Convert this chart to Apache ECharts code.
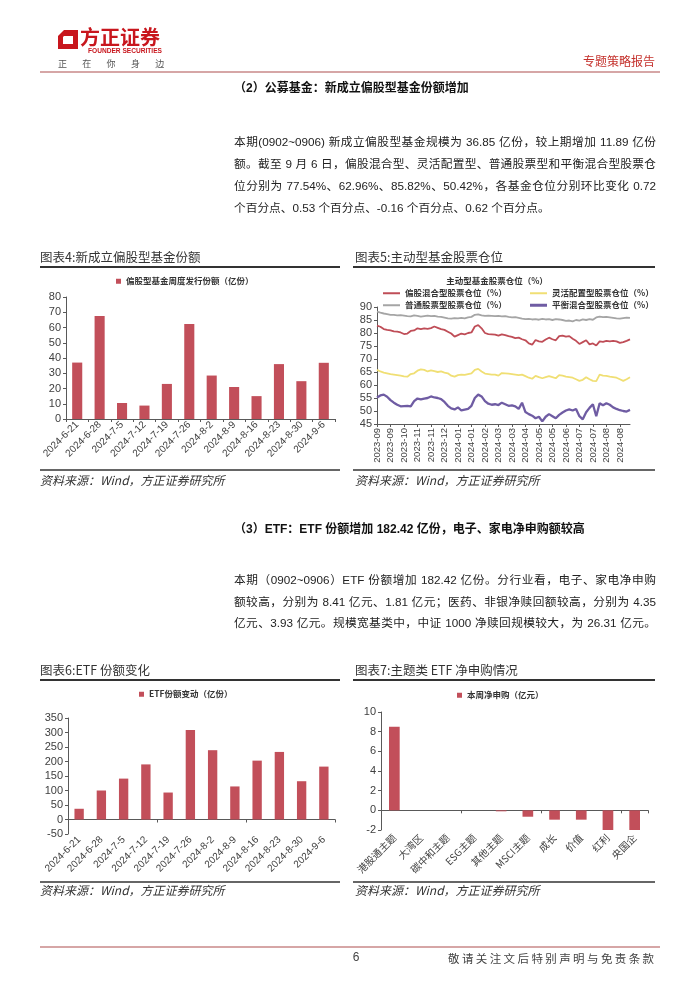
<!DOCTYPE html>
<html>
<head>
<meta charset="utf-8">
<script src="https://cdn.jsdelivr.net/npm/echarts@6.0.0/dist/echarts.min.js"></script>
<style>
html,body{margin:0;padding:0;background:#fff;}
#page{position:relative;width:700px;height:990px;overflow:hidden;background:#fff;}
#chart{position:absolute;left:0;top:0;width:700px;height:990px;}
.h{position:absolute;left:234px;font-family:"Liberation Sans","Noto Sans CJK SC",sans-serif;font-weight:bold;font-size:12px;line-height:16px;color:#111;white-space:nowrap;}
.p{position:absolute;left:234px;width:422px;font-family:"Liberation Sans","Noto Sans CJK SC",sans-serif;font-size:11.7px;line-height:16px;color:#222;}
.j{text-align:justify;text-align-last:justify;}
.foot{position:absolute;left:448px;top:951px;font-family:"Noto Sans CJK SC",sans-serif;font-size:11.5px;line-height:14px;letter-spacing:2.4px;color:#444;white-space:nowrap;}
</style>
</head>
<body>
<div id="page">
<div id="chart"></div>
<div class="h" style="top:80px">（2）公募基金：新成立偏股型基金份额增加</div>
<div class="p j" style="top:134px">本期(0902~0906) 新成立偏股型基金规模为 36.85 亿份，较上期增加 11.89 亿份</div>
<div class="p j" style="top:156px">额。截至 9 月 6 日，偏股混合型、灵活配置型、普通股票型和平衡混合型股票仓</div>
<div class="p j" style="top:178px">位分别为 77.54%、62.96%、85.82%、50.42%，各基金仓位分别环比变化 0.72</div>
<div class="p" style="top:200px">个百分点、0.53 个百分点、-0.16 个百分点、0.62 个百分点。</div>
<div class="h" style="top:521px">（3）ETF：ETF 份额增加 182.42 亿份，电子、家电净申购额较高</div>
<div class="p j" style="top:572px">本期（0902~0906）ETF 份额增加 182.42 亿份。分行业看，电子、家电净申购</div>
<div class="p j" style="top:594px">额较高，分别为 8.41 亿元、1.81 亿元；医药、非银净赎回额较高，分别为 4.35</div>
<div class="p j" style="top:615px">亿元、3.93 亿元。规模宽基类中，中证 1000 净赎回规模较大，为 26.31 亿元。</div>
<div class="foot">敬请关注文后特别声明与免责条款</div>
</div>
<script>
// ---------- data ----------
const weeks = ['2024-6-21','2024-6-28','2024-7-5','2024-7-12','2024-7-19','2024-7-26','2024-8-2','2024-8-9','2024-8-16','2024-8-23','2024-8-30','2024-9-6'];
const newFundShares = [37.0,67.5,10.5,8.8,23.0,62.3,28.5,21.0,15.0,36.0,24.8,36.85];
const etfShareChange = [37,100,141,190,93,309,239,114,203,233,132,182.42];
const themeNames = ['港股通主题','大湾区','碳中和主题','ESG主题','其他主题','MSCI主题','成长','价值','红利','央国企'];
const themeNetBuy = [8.5,0,0,0,-0.1,-0.65,-0.95,-0.95,-2.0,-2.0];
const positionTicks = ['2023-09','2023-09','2023-10','2023-11','2023-11','2023-12','2024-01','2024-01','2024-02','2024-03','2024-03','2024-04','2024-05','2024-05','2024-06','2024-07','2024-07','2024-08','2024-08'];
const equityHybrid = [82.8,82.4,81.5,81.2,81.0, 80.6,80.5,80.2,79.6,79.8, 80.8,81.0,81.8,81.5,81.8, 81.6,81.9,82.5,82.0,81.5, 81.2,80.5,79.8,78.6,79.2, 79.8,79.5,80.0,80.2,82.5, 83.0,81.8,80.0,79.6,79.5, 79.4,79.0,79.5,79.2,78.8, 78.5,78.0,78.2,77.6,77.2, 76.0,75.5,77.3,76.8,76.6, 77.5,78.2,77.6,77.2,78.8, 79.0,78.6,78.8,77.8,77.0, 75.8,76.5,77.2,75.6,76.0, 75.2,76.8,76.6,77.0,76.8, 77.0,76.8,76.2,76.5,77.0, 77.54];
const flexibleAlloc = [65.8,65.2,64.8,64.5,64.2, 64.0,63.8,63.6,63.3,63.2, 64.2,64.5,65.5,66.0,65.8, 65.2,65.6,65.3,65.0,65.2, 64.8,64.5,63.6,63.2,63.8, 64.0,63.9,64.2,64.5,65.8, 66.2,65.2,64.4,64.2,64.0, 64.0,63.6,64.6,64.5,64.4, 64.2,64.0,63.8,64.0,63.4, 62.8,62.4,63.5,63.0,62.6, 63.0,63.4,63.0,62.6,63.8, 63.6,63.2,63.0,62.8,62.2, 61.6,62.0,63.0,62.2,61.6, 61.5,64.0,63.6,63.5,63.2, 63.0,62.8,62.2,61.6,62.2, 62.96];
const stockFund = [88.2,87.8,87.5,87.3,87.0, 87.0,86.8,86.9,86.7,86.5, 86.4,86.8,86.6,86.3,86.5, 86.7,86.5,86.6,86.3,86.2, 85.9,85.6,85.5,85.7,85.6, 85.8,85.6,86.0,86.2,87.0, 87.2,86.8,86.6,86.7,86.6, 86.5,86.6,86.4,86.5,86.2, 86.0,86.1,85.8,85.5,85.3, 85.4,85.2,85.3,85.1,85.4, 85.2,85.3,85.0,85.3,85.2, 85.0,84.7,84.8,84.5,85.0, 84.8,85.2,85.0,85.3,85.1, 86.0,86.3,86.1,86.2,86.0, 85.8,85.6,85.5,85.7,85.9, 85.82];
const balancedHybrid = [55.2,56.0,56.3,55.5,54.2, 53.2,52.4,51.8,51.9,52.0, 51.8,53.8,54.8,54.5,54.8, 55.0,55.6,55.2,55.0,54.6, 53.5,52.0,51.0,50.6,51.4, 50.2,50.5,50.8,52.0,55.0, 56.3,55.6,53.8,52.8,52.4, 52.6,52.3,53.2,52.6,52.0, 52.2,51.8,50.8,53.2,49.6, 48.8,48.2,47.2,47.8,46.0, 47.8,48.8,48.0,47.2,48.5, 49.4,50.2,50.6,50.2,50.8, 48.0,46.8,49.5,51.2,52.6, 48.0,53.0,52.2,53.0,52.4, 51.4,50.8,50.3,50.0,49.8, 50.42];

// category per point (tick label every 4 points)
const positionCats = equityHybrid.map((_, i) => positionTicks[Math.floor(i / 4)]);

// ---------- styles ----------
const LAT = '"Liberation Sans", Arial, sans-serif';
const CJK = '"Noto Sans CJK SC", sans-serif';
const axisCol = '#595959';
const txtCol = '#404040';
const barCol = '#c24f5a';
const RED = '#c8161d';

function yAx(grid, min, max, interval) {
  return {type:'value', gridIndex:grid, min:min, max:max, interval:interval,
    axisLine:{show:true, lineStyle:{color:axisCol, width:1}},
    axisTick:{show:true, length:3, lineStyle:{color:axisCol}},
    splitLine:{show:false},
    axisLabel:{fontSize:11, color:txtCol, fontFamily:LAT, margin:5}};
}
function catAx(grid, data, extra) {
  return Object.assign({type:'category', gridIndex:grid, data:data,
    axisLine:{show:true, lineStyle:{color:axisCol, width:1}},
    axisTick:{show:true, length:3, lineStyle:{color:axisCol}},
    axisLabel:{show:true, rotate:45, interval:0, fontSize:10, color:txtCol, fontFamily:LAT, margin:4}}, extra || {});
}

// ---------- graphic (page furniture) ----------
const g = [];
function txt(x, y, text, font, fill, align) {
  g.push({type:'text', x:x, y:y, silent:true,
    style:{text:text, font:font, fill:fill, align:align || 'left', verticalAlign:'middle',
           textAlign:align || 'left', textVerticalAlign:'middle'}});
}
function ln(x1, y1, x2, y2, color, w) {
  g.push({type:'line', silent:true, shape:{x1:x1, y1:y1, x2:x2, y2:y2}, style:{stroke:color, lineWidth:w}});
}
// logo
g.push({type:'polygon', silent:true, shape:{points:[[64,30],[78,30],[78,49],[58,49],[58,36]]}, style:{fill:RED}});
g.push({type:'polygon', silent:true, shape:{points:[[64,36],[73,36],[73,44],[63,44],[63,37]]}, style:{fill:'#fff'}});
txt(80, 37, '方正证券', 'bold 20px ' + CJK, RED);
txt(88, 51, 'FOUNDER SECURITIES', 'bold 6.6px ' + LAT, RED);
['正','在','你','身','边'].forEach((c, i) => txt(58 + i * 24.3, 64, c, '9px ' + CJK, '#555'));
txt(655, 61, '专题策略报告', '12px ' + CJK, '#c4302b', 'right');
ln(40, 72, 660, 72, '#c98888', 1.3);
// footer
ln(40, 947, 660, 947, '#c98888', 1.3);
txt(356, 958, '6', '12px ' + LAT, '#444', 'center');

// chart captions
const capFont = '12.5px ' + CJK;
const srcFont = 'italic 12px ' + CJK;
const srcText = '资料来源：Wind，方正证券研究所';
txt(40, 257, '图表4:新成立偏股型基金份额', capFont, '#333');
ln(40, 267, 340, 267, '#333', 2);
ln(40, 470, 340, 470, '#333', 1.5);
txt(40, 480, srcText, srcFont, '#333');

txt(355, 257, '图表5:主动型基金股票仓位', capFont, '#333');
ln(353, 267, 655, 267, '#333', 2);
ln(353, 470, 655, 470, '#333', 1.5);
txt(355, 480, srcText, srcFont, '#333');
txt(497, 281, '主动型基金股票仓位（%）', 'bold 8.5px ' + CJK, '#333', 'center');

txt(40, 670, '图表6:ETF 份额变化', capFont, '#333');
ln(40, 680, 340, 680, '#333', 2);
ln(40, 882, 340, 882, '#333', 1.5);
txt(40, 890, srcText, srcFont, '#333');

txt(355, 670, '图表7:主题类 ETF 净申购情况', capFont, '#333');
ln(353, 680, 655, 680, '#333', 2);
ln(353, 882, 655, 882, '#333', 1.5);
txt(355, 890, srcText, srcFont, '#333');

// ---------- legends ----------
const legText = {fontSize:8.5, fontWeight:'bold', color:'#333', fontFamily:CJK};
function barLeg(name, left, top) {
  return {data:[name], left:left, top:top, icon:'rect', itemWidth:5, itemHeight:5, itemGap:4, textStyle:legText, selectedMode:false, padding:0};
}
function lineLeg(name, left, top, h) {
  return {data:[name], left:left, top:top, icon:'rect', itemWidth:17, itemHeight:h, textStyle:legText, selectedMode:false, padding:0};
}

const nRed = '偏股混合型股票仓位（%）';
const nYel = '灵活配置型股票仓位（%）';
const nGry = '普通股票型股票仓位（%）';
const nPur = '平衡混合型股票仓位（%）';

const option = {
  animation:false,
  backgroundColor:'transparent',
  graphic:{elements:g},
  legend:[
    barLeg('偏股型基金周度发行份额（亿份）', 116, 277),
    lineLeg(nRed, 383, 289, 2),
    lineLeg(nYel, 530, 289, 2),
    lineLeg(nGry, 383, 301, 2),
    lineLeg(nPur, 530, 301, 3),
    barLeg('ETF份额变动（亿份）', 139, 690),
    barLeg('本周净申购（亿元）', 457, 691)
  ],
  grid:[
    {left:66, top:297, width:269, height:122},
    {left:377, top:307, width:253, height:117},
    {left:68, top:718, width:267, height:116},
    {left:381, top:712, width:267, height:118}
  ],
  xAxis:[
    catAx(0, weeks),
    catAx(1, positionCats, {boundaryGap:false,
      axisTick:{show:true, length:3, interval:3, lineStyle:{color:axisCol}},
      axisLabel:{show:true, rotate:90, interval:3, fontSize:9.5, color:txtCol, fontFamily:LAT, margin:4}}),
    catAx(2, weeks, {position:'bottom', axisLine:{show:true, onZero:true, lineStyle:{color:axisCol}}, axisLabel:{show:false}}),
    catAx(2, weeks, {position:'bottom', axisLine:{show:false, onZero:false}, axisTick:{show:false}}),
    catAx(3, themeNames, {position:'bottom', axisLine:{show:true, onZero:true, lineStyle:{color:axisCol}}, axisLabel:{show:false}}),
    catAx(3, themeNames, {position:'bottom', axisLine:{show:false, onZero:false}, axisTick:{show:false},
      axisLabel:{show:true, rotate:45, interval:0, fontSize:10, color:txtCol, fontFamily:'"Noto Sans CJK SC", "Liberation Sans", sans-serif', margin:6}})
  ],
  yAxis:[
    yAx(0, 0, 80, 10),
    yAx(1, 45, 90, 5),
    yAx(2, -50, 350, 50),
    yAx(3, -2, 10, 2)
  ],
  series:[
    {name:'偏股型基金周度发行份额（亿份）', type:'bar', xAxisIndex:0, yAxisIndex:0, data:newFundShares, barWidth:'45%', itemStyle:{color:barCol}},
    {name:nRed, type:'line', xAxisIndex:1, yAxisIndex:1, data:equityHybrid, symbol:'none', lineStyle:{color:'#bf4d57', width:1.8}, itemStyle:{color:'#bf4d57'}},
    {name:nYel, type:'line', xAxisIndex:1, yAxisIndex:1, data:flexibleAlloc, symbol:'none', lineStyle:{color:'#f0df74', width:1.8}, itemStyle:{color:'#f0df74'}},
    {name:nGry, type:'line', xAxisIndex:1, yAxisIndex:1, data:stockFund, symbol:'none', lineStyle:{color:'#a5a5a5', width:1.8}, itemStyle:{color:'#a5a5a5'}},
    {name:nPur, type:'line', xAxisIndex:1, yAxisIndex:1, data:balancedHybrid, symbol:'none', lineStyle:{color:'#6f5ca3', width:2.3}, itemStyle:{color:'#6f5ca3'}},
    {name:'ETF份额变动（亿份）', type:'bar', xAxisIndex:2, yAxisIndex:2, data:etfShareChange, barWidth:'42%', itemStyle:{color:barCol}},
    {name:'本周净申购（亿元）', type:'bar', xAxisIndex:4, yAxisIndex:3, data:themeNetBuy, barWidth:'40%', itemStyle:{color:barCol}}
  ]
};
const chart = echarts.init(document.getElementById('chart'), null, {renderer:'canvas'});
chart.setOption(option);
</script>
</body>
</html>
